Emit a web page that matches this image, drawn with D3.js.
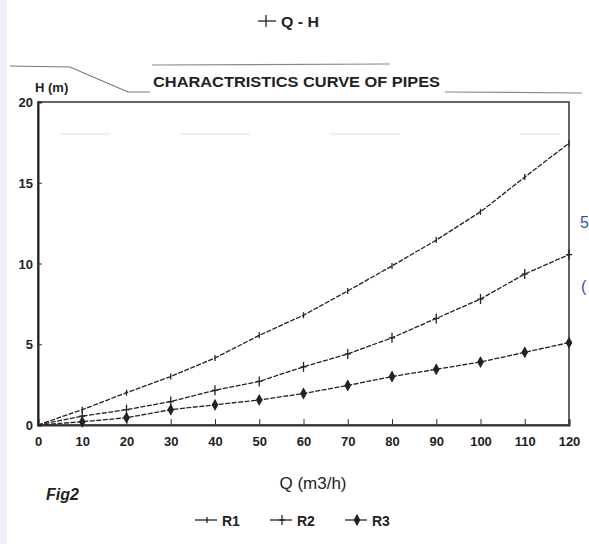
<!DOCTYPE html>
<html lang="en">
<head>
<meta charset="UTF-8">
<script src="https://cdn.jsdelivr.net/npm/d3@7"></script>
<title>characteristics curve</title>
<style>
  body { margin: 0; background: #fff; }
  text { font-family: "Liberation Sans", Arial, sans-serif; fill: #222; }
  .tick text { font-size: 13px; font-weight: bold; }
</style>
</head>
<body>
<div id="chart"></div>
<script>
// data
var flows = [0, 10, 20, 30, 40, 50, 60, 70, 80, 90, 100, 110, 120];
var r1 = [0, 0.95, 2.0, 3.0, 4.15, 5.55, 6.8, 8.3, 9.85, 11.45, 13.2, 15.35, 17.45];
var r2 = [0, 0.55, 0.95, 1.45, 2.15, 2.7, 3.6, 4.4, 5.4, 6.6, 7.8, 9.35, 10.55];
var r3 = [0, 0.2, 0.45, 0.95, 1.25, 1.55, 1.95, 2.45, 3.0, 3.45, 3.9, 4.5, 5.1];
var seriesNames = ["R1", "R2", "R3"];
var yTicks = [0, 5, 10, 15, 20];

var W = 589, H = 544;
var margin = {top: 102, right: 20, bottom: 119, left: 38};

var svg = d3.select("#chart").append("svg")
    .attr("width", W)
    .attr("height", H);

// faint page edge on the left
svg.append("rect").attr("x", 0).attr("y", 0).attr("width", 7).attr("height", H)
    .attr("fill", "#eef1f6");

var x = d3.scaleLinear().domain([0, 120]).range([margin.left, W - margin.right]);
var y = d3.scaleLinear().domain([0, 20]).range([H - margin.bottom, margin.top]);

// frame
svg.append("rect")
    .attr("x", x(0)).attr("y", y(20))
    .attr("width", x(120) - x(0)).attr("height", y(0) - y(20))
    .attr("fill", "none").attr("stroke", "#333").attr("stroke-width", 1.5);

// faint bleed-through marks near the top
[[60, 110], [180, 250], [330, 400], [520, 560]].forEach(function(s) {
    svg.append("line").attr("x1", s[0]).attr("x2", s[1]).attr("y1", 134).attr("y2", 134)
        .attr("stroke", "#f0f0f0").attr("stroke-width", 2);
});

var xAxis = d3.axisBottom(x).tickValues(flows).tickSize(-6).tickPadding(12);
var gx = svg.append("g").attr("transform", "translate(0," + y(0) + ")").call(xAxis);
gx.select(".domain").attr("stroke", "#333").attr("stroke-width", 2);
gx.selectAll(".tick line").attr("stroke", "#333");

var yAxis = d3.axisLeft(y).tickValues(yTicks).tickSize(-4).tickPadding(5);
var gy = svg.append("g").attr("transform", "translate(" + x(0) + ",0)").call(yAxis);
gy.select(".domain").attr("stroke", "#222").attr("stroke-width", 2);
gy.selectAll(".tick line").attr("stroke", "#333");
gy.selectAll(".tick text").attr("font-size", 14).attr("dy", "0.35em");

// curves
var sets = [r1, r2, r3];
var line = d3.line().x(function(d, i) { return x(flows[i]); }).y(function(d) { return y(d); });

sets.forEach(function(vals, k) {
    svg.append("path").datum(vals)
        .attr("d", line)
        .attr("fill", "none")
        .attr("stroke", "#222")
        .attr("stroke-width", 1.3)
        .attr("stroke-dasharray", "5,1.5");
});

function marker(g, cx, cy, k) {
    if (k === 0) {
        g.append("line").attr("x1", cx).attr("x2", cx).attr("y1", cy - 3).attr("y2", cy + 3)
            .attr("stroke", "#222").attr("stroke-width", 1.3);
    } else if (k === 1) {
        g.append("line").attr("x1", cx).attr("x2", cx).attr("y1", cy - 5).attr("y2", cy + 5)
            .attr("stroke", "#222").attr("stroke-width", 1.3);
        g.append("line").attr("x1", cx - 3).attr("x2", cx + 3).attr("y1", cy).attr("y2", cy)
            .attr("stroke", "#222").attr("stroke-width", 1.3);
    } else {
        g.append("path").attr("transform", "translate(" + cx + "," + cy + ")")
            .attr("d", d3.symbol().type(d3.symbolDiamond).size(40)())
            .attr("fill", "#222");
        g.append("line").attr("x1", cx).attr("x2", cx).attr("y1", cy - 5).attr("y2", cy + 5)
            .attr("stroke", "#222").attr("stroke-width", 1.2);
    }
}

var mk = svg.append("g");
sets.forEach(function(vals, k) {
    vals.forEach(function(v, i) {
        if (i > 0) marker(mk, x(flows[i]), y(v), k);
    });
});

// top caption "+ Q - H"
svg.append("line").attr("x1", 258).attr("x2", 276).attr("y1", 21).attr("y2", 21)
    .attr("stroke", "#222").attr("stroke-width", 1.3);
svg.append("line").attr("x1", 266).attr("x2", 266).attr("y1", 15).attr("y2", 27)
    .attr("stroke", "#222").attr("stroke-width", 1.3);
svg.append("text").attr("x", 281).attr("y", 27)
    .attr("font-size", 14).attr("font-weight", "bold")
    .attr("textLength", 38).attr("lengthAdjust", "spacingAndGlyphs")
    .text("Q - H");

// title decoration lines
svg.append("path")
    .attr("d", "M10,66 L70,67 L128,92 L150,92")
    .attr("fill", "none").attr("stroke", "#777").attr("stroke-width", 1.2);
svg.append("line").attr("x1", 152).attr("x2", 390).attr("y1", 65).attr("y2", 64)
    .attr("stroke", "#888").attr("stroke-width", 1.2);
svg.append("line").attr("x1", 445).attr("x2", 582).attr("y1", 92).attr("y2", 93)
    .attr("stroke", "#888").attr("stroke-width", 1.2);

svg.append("text").attr("x", 35).attr("y", 92)
    .attr("font-size", 13).attr("font-weight", "bold")
    .text("H (m)");
svg.append("text").attr("x", 153).attr("y", 87)
    .attr("font-size", 14).attr("font-weight", "bold")
    .attr("textLength", 287).attr("lengthAdjust", "spacingAndGlyphs")
    .text("CHARACTRISTICS CURVE  OF PIPES");

// axis title
svg.append("text").attr("x", 313).attr("y", 489)
    .attr("text-anchor", "middle").attr("font-size", 17)
    .text("Q (m3/h)");

// handwritten figure tag
svg.append("text").attr("x", 46).attr("y", 500)
    .attr("font-size", 16).attr("font-style", "italic").attr("font-weight", "bold")
    .text("Fig2");

// blue pen marks at right edge
svg.append("text").attr("x", 580).attr("y", 228)
    .attr("font-size", 16).style("fill", "#3b4fa8").text("5");
svg.append("text").attr("x", 581).attr("y", 292)
    .attr("font-size", 16).style("fill", "#3b4fa8").text("(");

// legend
var lx = [195, 270, 345];
var lg = svg.append("g");
seriesNames.forEach(function(name, k) {
    var cx = lx[k] + 10;
    lg.append("line").attr("x1", lx[k]).attr("x2", lx[k] + 22).attr("y1", 520).attr("y2", 520)
        .attr("stroke", "#222").attr("stroke-width", 1.3);
    marker(lg, cx + 2, 520, k);
    lg.append("text").attr("x", lx[k] + 27).attr("y", 526)
        .attr("font-size", 14).attr("font-weight", "bold")
        .text(name);
});
</script>
</body>
</html>
